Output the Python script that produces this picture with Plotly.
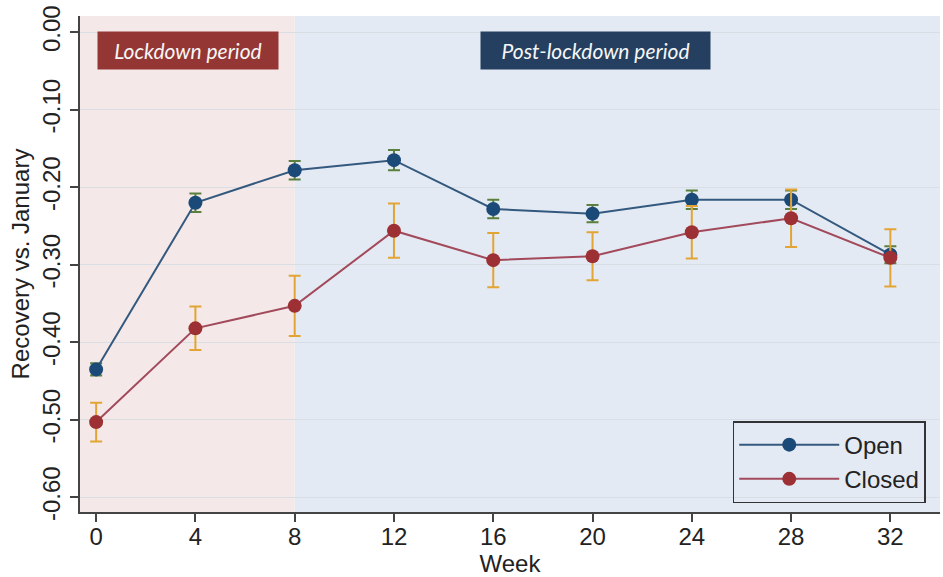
import plotly.graph_objects as go

# Weeks since the start of lockdown
weeks = [0, 4, 8, 12, 16, 20, 24, 28, 32]

# Recovery relative to January, with error margins
open_vals = [-0.435, -0.220, -0.178, -0.165, -0.228, -0.234, -0.216, -0.216, -0.287]
open_err = [0.008, 0.012, 0.012, 0.013, 0.012, 0.011, 0.012, 0.012, 0.011]
closed_vals = [-0.503, -0.382, -0.353, -0.256, -0.294, -0.289, -0.258, -0.240, -0.291]
closed_err = [0.025, 0.028, 0.039, 0.035, 0.035, 0.031, 0.034, 0.037, 0.037]

y_ticks = [0.0, -0.1, -0.2, -0.3, -0.4, -0.5, -0.6]
y_tick_labels = ["0.00", "-0.10", "-0.20", "-0.30", "-0.40", "-0.50", "-0.60"]
x_ticks = [0, 4, 8, 12, 16, 20, 24, 28, 32]

lockdown_end = 8
x_range = [-0.65, 34.0]
y_range = [-0.619, 0.021]

fig = go.Figure()

fig.add_trace(go.Scatter(
    x=weeks, y=open_vals, name="Open", mode="lines+markers",
    line=dict(color="#34597f", width=2),
    marker=dict(color="#1c4a78", size=14),
    error_y=dict(type="data", array=open_err, color="#5b7f3e", thickness=2, width=6),
))
fig.add_trace(go.Scatter(
    x=weeks, y=closed_vals, name="Closed", mode="lines+markers",
    line=dict(color="#a24a5c", width=2),
    marker=dict(color="#9c3034", size=14),
    error_y=dict(type="data", array=closed_err, color="#e2a535", thickness=2, width=6),
))

# Period backgrounds
fig.add_shape(type="rect", xref="x", yref="paper", x0=x_range[0], x1=lockdown_end,
              y0=0, y1=1, fillcolor="#f4e9e8", line_width=0, layer="below")
fig.add_shape(type="rect", xref="x", yref="paper", x0=lockdown_end, x1=x_range[1],
              y0=0, y1=1, fillcolor="#e4eaf3", line_width=0, layer="below")

# Period labels
label_font = dict(family="Lato", size=21, color="#f6f6f6", style="italic")
fig.add_annotation(x=3.7, y=-0.024, xref="x", yref="y", text="Lockdown period",
                   showarrow=False, font=label_font, bgcolor="#943634",
                   width=176, height=33, borderpad=2)
fig.add_annotation(x=20.1, y=-0.024, xref="x", yref="y", text="Post-lockdown period",
                   showarrow=False, font=label_font, bgcolor="#243f60",
                   width=225, height=33, borderpad=2)

axis_font = dict(family="Liberation Sans, Arial", size=24, color="#222")

fig.update_layout(
    width=943, height=577,
    margin=dict(l=80, r=3, t=16, b=65),
    paper_bgcolor="white",
    plot_bgcolor="rgba(0,0,0,0)",
    font=axis_font,
    showlegend=True,
    legend=dict(
        x=0.759, y=0.018, xanchor="left", yanchor="bottom",
        bgcolor="rgba(0,0,0,0)", bordercolor="#333", borderwidth=1.5,
        font=dict(family="Liberation Sans, Arial", size=24, color="#222"),
        itemwidth=100, tracegroupgap=0,
    ),
    xaxis=dict(
        range=x_range, tickvals=x_ticks, showgrid=False, zeroline=False,
        showline=True, linecolor="#444", linewidth=2,
        ticks="outside", ticklen=8, tickwidth=1.5, tickcolor="#444",
        ticklabelstandoff=-6,
        title=dict(text="Week", font=axis_font, standoff=0),
        tickfont=axis_font,
    ),
    yaxis=dict(
        range=y_range, tickvals=y_ticks, ticktext=y_tick_labels,
        tickangle=-90, showgrid=True, gridcolor="#d9dee4", gridwidth=1,
        zeroline=False, showline=True, linecolor="#444", linewidth=2,
        ticks="outside", ticklen=8, tickwidth=1.5, tickcolor="#444",
        title=dict(text="Recovery vs. January", font=axis_font, standoff=2),
        tickfont=axis_font,
    ),
)

fig.write_html("out.html")
